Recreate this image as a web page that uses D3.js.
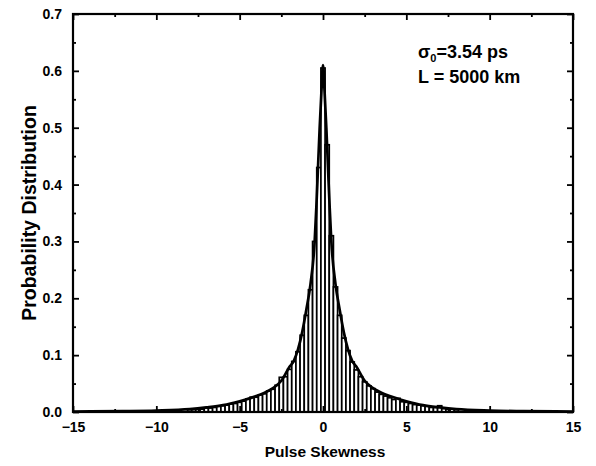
<!DOCTYPE html>
<html>
<head>
<meta charset="utf-8">
<script src="https://cdn.jsdelivr.net/npm/d3@7.9.0/dist/d3.min.js"></script>
<style>
  body { margin: 0; background: #fff; }
  svg text { font-family: "Liberation Sans", Arial, sans-serif; font-weight: bold; fill: #000; }
</style>
</head>
<body>
<svg id="chart" width="596" height="466"></svg>
<script>
// histogram bins (centre of each 0.25-wide bin) and their heights
const binCenters = d3.range(-8, 8.001, 0.25);
const binValues = [
  0.004, 0.004, 0.005, 0.005, 0.007, 0.007, 0.008, 0.010, 0.011, 0.012,
  0.014, 0.015, 0.017, 0.019, 0.023, 0.026, 0.026, 0.030, 0.032, 0.037,
  0.040, 0.047, 0.061, 0.062, 0.075, 0.089, 0.106, 0.135, 0.170, 0.215,
  0.300, 0.430, 0.605, 0.470, 0.310, 0.220, 0.170, 0.130, 0.108, 0.088,
  0.074, 0.062, 0.053, 0.046, 0.041, 0.035, 0.031, 0.028, 0.025, 0.022,
  0.024, 0.018, 0.017, 0.015, 0.013, 0.012, 0.011, 0.010, 0.008, 0.008,
  0.011, 0.006, 0.005, 0.005, 0.004
];

// fitted curve
const curveX = [-15, -12, -10, -8, -7, -6, -5, -4, -3.5, -3, -2.5, -2, -1.75, -1.5, -1.25, -1, -0.75, -0.5, -0.4, -0.3, -0.2, -0.1, 0,
                0.1, 0.2, 0.3, 0.4, 0.5, 0.75, 1, 1.25, 1.5, 1.75, 2, 2.5, 3, 3.5, 4, 5, 6, 7, 8, 10, 12, 15];
const curveY = [0.0008, 0.0015, 0.0025, 0.005, 0.008, 0.012, 0.019, 0.028, 0.034, 0.042, 0.055, 0.08, 0.09, 0.11, 0.14, 0.18, 0.225, 0.30, 0.36, 0.43, 0.50, 0.56, 0.61,
                0.56, 0.50, 0.43, 0.36, 0.30, 0.225, 0.18, 0.14, 0.11, 0.09, 0.08, 0.055, 0.042, 0.034, 0.028, 0.019, 0.012, 0.008, 0.005, 0.0025, 0.0015, 0.0008];

const xTicks = [-15, -10, -5, 0, 5, 10, 15];
const yTicks = [0.0, 0.1, 0.2, 0.3, 0.4, 0.5, 0.6, 0.7];

const margin = { top: 14, right: 23, bottom: 54, left: 73 };
const svg = d3.select('#chart');
const width = 596 - margin.left - margin.right;
const height = 466 - margin.top - margin.bottom;
const g = svg.append('g').attr('transform', `translate(${margin.left},${margin.top})`);

const x = d3.scaleLinear().domain([-15, 15]).range([0, width]);
const y = d3.scaleLinear().domain([0, 0.7]).range([height, 0]);

// bars
const binW = 0.25;
g.selectAll('rect.bar')
  .data(binCenters.map((c, i) => ({ c, v: binValues[i] })))
  .join('rect')
  .attr('class', 'bar')
  .attr('x', d => x(d.c - binW / 2))
  .attr('width', d => x(d.c + binW / 2) - x(d.c - binW / 2))
  .attr('y', d => y(d.v))
  .attr('height', d => y(0) - y(d.v))
  .attr('fill', '#fff')
  .attr('stroke', '#000')
  .attr('stroke-width', 1.7);

// fit line
const line = d3.line()
  .x((d, i) => x(curveX[i]))
  .y(d => y(d))
  .curve(d3.curveMonotoneX);
g.append('path')
  .datum(curveY)
  .attr('d', line)
  .attr('fill', 'none')
  .attr('stroke', '#000')
  .attr('stroke-width', 2.7);

// frame
g.append('rect')
  .attr('width', width).attr('height', height)
  .attr('fill', 'none').attr('stroke', '#000').attr('stroke-width', 2.2);

// axes, ticks pointing inward
const xMinor = d3.range(-12.5, 15, 5);
const yMinor = d3.range(0.05, 0.7, 0.1);

g.append('g').attr('transform', `translate(0,${height})`)
  .call(d3.axisBottom(x).tickValues(xTicks).tickSize(-6).tickPadding(10).tickFormat(d3.format('d')));
g.append('g')
  .call(d3.axisTop(x).tickValues(xTicks).tickSize(-6).tickFormat(''));
g.append('g')
  .call(d3.axisLeft(y).tickValues(yTicks).tickSize(-6).tickPadding(11).tickFormat(d3.format('.1f')));
g.append('g').attr('transform', `translate(${width},0)`)
  .call(d3.axisRight(y).tickValues(yTicks).tickSize(-6).tickFormat(''));

g.append('g').attr('transform', `translate(0,${height})`)
  .call(d3.axisBottom(x).tickValues(xMinor).tickSize(-3).tickFormat(''));
g.append('g')
  .call(d3.axisTop(x).tickValues(xMinor).tickSize(-3).tickFormat(''));
g.append('g')
  .call(d3.axisLeft(y).tickValues(yMinor).tickSize(-3).tickFormat(''));
g.append('g').attr('transform', `translate(${width},0)`)
  .call(d3.axisRight(y).tickValues(yMinor).tickSize(-3).tickFormat(''));

g.selectAll('.domain').remove();
g.selectAll('.tick line').attr('stroke', '#000').attr('stroke-width', 1.8);
g.selectAll('.tick text').style('font-size', '14px').style('font-family', '"Liberation Sans", Arial, sans-serif').style('font-weight', 'bold');

// axis titles
svg.append('text')
  .attr('x', margin.left + width / 2 + 2).attr('y', 457)
  .attr('text-anchor', 'middle').style('font-size', '15.5px')
  .text('Pulse Skewness');
svg.append('text')
  .attr('transform', `translate(36,${margin.top + height / 2}) rotate(-90)`)
  .attr('text-anchor', 'middle').style('font-size', '19.5px')
  .text('Probability Distribution');

// annotation
const note = svg.append('text').attr('x', 418).attr('y', 58).style('font-size', '18px');
note.append('tspan').text('σ');
note.append('tspan').attr('dy', 4).style('font-size', '11px').text('0');
note.append('tspan').attr('dy', -4).text('=3.54 ps');
svg.append('text').attr('x', 418).attr('y', 83).style('font-size', '18px').text('L = 5000 km');
</script>
</body>
</html>
